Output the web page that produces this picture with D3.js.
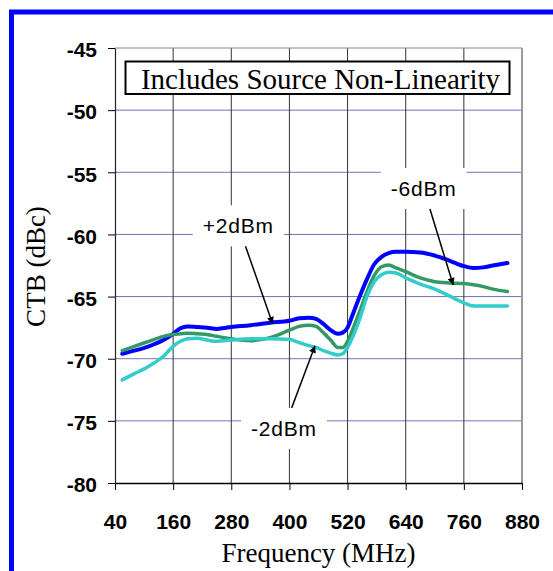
<!DOCTYPE html>
<html>
<head>
<meta charset="utf-8">
<script src="https://cdn.jsdelivr.net/npm/d3@7"></script>
<style>
  html, body { margin: 0; padding: 0; background: #fff; overflow: hidden; }
  svg { display: block; }
</style>
</head>
<body>
<svg id="chart" width="553" height="571"></svg>
<script>
// Frequency grid (MHz) shared by all three drive levels
const freq = [55, 80, 110, 140, 160, 175, 190, 210, 230, 250, 280, 320, 360, 400, 420, 440, 455, 470, 485, 500,
              510, 520, 530, 545, 560, 575, 590, 605, 620, 640, 670, 700, 730, 760, 780, 800, 820, 850];

// CTB (dBc) at +2 dBm drive
const ctbPlus2 = [-69.6, -69.35, -69.0, -68.5, -68.0, -67.55, -67.4, -67.45, -67.5, -67.6, -67.45, -67.3, -67.1, -66.95, -66.75, -66.7, -66.8, -67.2, -67.7, -68.0,
                  -67.9, -67.5, -66.5, -65.0, -63.6, -62.4, -61.8, -61.5, -61.4, -61.4, -61.45, -61.7, -62.1, -62.55, -62.7, -62.65, -62.5, -62.3];

// CTB (dBc) at -2 dBm drive
const ctbMinus2 = [-69.35, -69.0, -68.6, -68.2, -68.05, -68.0, -67.95, -68.0, -68.05, -68.2, -68.4, -68.55, -68.3, -67.7, -67.4, -67.3, -67.4, -67.9, -68.5, -69.1,
                   -69.1, -68.6, -67.7, -66.2, -64.6, -63.3, -62.6, -62.45, -62.7, -63.0, -63.5, -63.8, -63.9, -63.95, -64.05, -64.2, -64.4, -64.6];

// CTB (dBc) at -6 dBm drive
const ctbMinus6 = [-71.7, -71.2, -70.6, -69.8, -69.0, -68.6, -68.4, -68.35, -68.5, -68.6, -68.5, -68.4, -68.4, -68.45, -68.7, -68.95, -69.1, -69.35, -69.55, -69.7,
                   -69.6, -69.1, -68.3, -66.8, -65.0, -63.8, -63.25, -63.05, -63.1, -63.5, -64.0, -64.4, -64.95, -65.5, -65.75, -65.75, -65.75, -65.75];

const xTicks = [40, 160, 280, 400, 520, 640, 760, 880];
const yTicks = [-45, -50, -55, -60, -65, -70, -75, -80];

const seriesNames = ["+2dBm", "-2dBm", "-6dBm"];
const seriesColors = ["#0000ff", "#339966", "#33cccc"];
const seriesWidths = [4, 3.5, 3.5];

// Callouts: label centre and arrow tip, both in data units (MHz, dBc)
const calloutLabels = ["+2dBm", "-6dBm", "-2dBm"];
const calloutTextAt = [[294.5, -59.3], [677, -56.3], [388.8, -75.6]];
const calloutTipAt = [[365.5, -67.2], [738, -64.07], [452.8, -68.95]];

const chartTitle = "Includes Source Non-Linearity";
const xTitle = "Frequency (MHz)";
const yTitle = "CTB (dBc)";

// ---- layout ----
const svg = d3.select("#chart");
const m = { left: 115, top: 48, right: 522, bottom: 483 };

const x = d3.scaleLinear().domain([40, 880]).range([m.left, m.right]);
const y = d3.scaleLinear().domain([-80, -45]).range([m.bottom, m.top]);

const SANS = "'Liberation Sans', Arial, sans-serif";
const SERIF = "'Liberation Serif', 'Times New Roman', serif";

// outer blue frame (runs off the right and bottom edges)
svg.append("rect")
  .attr("x", 11.5).attr("y", 12)
  .attr("width", 700).attr("height", 700)
  .attr("fill", "none").attr("stroke", "#0000ff").attr("stroke-width", 5);

// horizontal gridlines
svg.append("g").selectAll("line")
  .data(yTicks.filter(v => v > -80 && v < -45))
  .join("line")
  .attr("x1", m.left).attr("x2", m.right)
  .attr("y1", d => y(d)).attr("y2", d => y(d))
  .attr("stroke", "#7474b4").attr("stroke-width", 1);

// vertical gridlines
svg.append("g").selectAll("line")
  .data(xTicks.filter(v => v > 40 && v < 880))
  .join("line")
  .attr("x1", d => x(d)).attr("x2", d => x(d))
  .attr("y1", m.top).attr("y2", m.bottom)
  .attr("stroke", "#333").attr("stroke-width", 1);

// top and right plot-area border
svg.append("line")
  .attr("x1", m.left).attr("x2", m.right).attr("y1", y(-45)).attr("y2", y(-45))
  .attr("stroke", "#888").attr("stroke-width", 1.2);
svg.append("line")
  .attr("x1", x(880)).attr("x2", x(880)).attr("y1", m.top).attr("y2", m.bottom)
  .attr("stroke", "#999").attr("stroke-width", 2);

// axes (plain hyphen for negative labels)
const plain = d => String(d);

const xAxis = svg.append("g")
  .attr("transform", `translate(0,${m.bottom})`)
  .call(d3.axisBottom(x).tickValues(xTicks).tickFormat(plain).tickSizeInner(7).tickSizeOuter(0).tickPadding(24));
xAxis.select(".domain").attr("stroke", "#000").attr("stroke-width", 1.6);
xAxis.selectAll(".tick line").attr("stroke", "#000");
xAxis.selectAll("text")
  .attr("font-family", SANS).attr("font-size", 21).attr("font-weight", "bold").attr("fill", "#000");

const yAxis = svg.append("g")
  .attr("transform", `translate(${m.left},0)`)
  .call(d3.axisLeft(y).tickValues(yTicks).tickFormat(plain).tickSizeInner(7).tickSizeOuter(0).tickPadding(11));
yAxis.select(".domain").attr("stroke", "#222").attr("stroke-width", 1.2);
yAxis.selectAll(".tick line").attr("stroke", "#000");
yAxis.selectAll("text")
  .attr("font-family", SANS).attr("font-size", 21).attr("font-weight", "bold").attr("fill", "#000")
  .attr("dy", "0.42em");

// axis titles
svg.append("text")
  .attr("x", (m.left + m.right) / 2).attr("y", 562)
  .attr("text-anchor", "middle")
  .attr("font-family", SERIF).attr("font-size", 27)
  .text(xTitle);

svg.append("text")
  .attr("transform", `translate(45,${(m.top + m.bottom) / 2 + 1}) rotate(-90)`)
  .attr("text-anchor", "middle")
  .attr("font-family", SERIF).attr("font-size", 27)
  .text(yTitle);

// series lines
const seriesData = [ctbPlus2, ctbMinus2, ctbMinus6];
const line = d3.line()
  .x(d => x(d[0])).y(d => y(d[1]))
  .curve(d3.curveMonotoneX);

svg.append("g").selectAll("path")
  .data(seriesData.map((vals, i) => ({ name: seriesNames[i], pts: freq.map((f, j) => [f, vals[j]]), i })))
  .join("path")
  .attr("d", d => line(d.pts))
  .attr("fill", "none")
  .attr("stroke", d => seriesColors[d.i])
  .attr("stroke-width", d => seriesWidths[d.i])
  .attr("stroke-linejoin", "round")
  .attr("stroke-linecap", "round");

// title box
const titleG = svg.append("g");
titleG.append("text")
  .attr("x", (m.left + m.right) / 2 + 2).attr("y", 89)
  .attr("text-anchor", "middle")
  .attr("font-family", SERIF).attr("font-size", 29)
  .text(chartTitle);
titleG.insert("rect", "text")
  .attr("x", 125.5).attr("y", 61.5)
  .attr("width", 384).attr("height", 32.5)
  .attr("fill", "#fff").attr("stroke", "#000").attr("stroke-width", 2);

// arrowhead marker
svg.append("defs").append("marker")
  .attr("id", "arrow")
  .attr("viewBox", "0 0 10 10")
  .attr("refX", 10).attr("refY", 5)
  .attr("markerWidth", 10).attr("markerHeight", 7)
  .attr("markerUnits", "userSpaceOnUse")
  .attr("orient", "auto")
  .append("path").attr("d", "M0,0 L10,5 L0,10 z").attr("fill", "#000");

// callouts: white label box with an arrow pointing at its curve
calloutLabels.forEach((lab, i) => {
  const cx = x(calloutTextAt[i][0]);
  const cy = y(calloutTextAt[i][1]);
  const tx = x(calloutTipAt[i][0]);
  const ty = y(calloutTipAt[i][1]);
  const g = svg.append("g");
  const t = g.append("text")
    .attr("x", cx).attr("y", cy)
    .attr("dy", "0.36em")
    .attr("text-anchor", "middle")
    .attr("font-family", SANS).attr("font-size", 21)
    .attr("letter-spacing", "0.8px")
    .text(lab);
  const bb = t.node().getBBox();
  const padX = 10, padY = 9;
  const bx0 = bb.x - padX, bx1 = bb.x + bb.width + padX;
  const by0 = bb.y - padY, by1 = bb.y + bb.height + padY;
  g.insert("rect", "text")
    .attr("x", bx0).attr("y", by0)
    .attr("width", bx1 - bx0).attr("height", by1 - by0)
    .attr("fill", "#fff");
  // start the arrow where the centre-to-tip ray leaves the box
  const edgeY = ty > cy ? by1 : by0;
  const k = (edgeY - cy) / (ty - cy);
  const sx = cx + (tx - cx) * k;
  g.append("line")
    .attr("x1", sx).attr("y1", edgeY)
    .attr("x2", tx).attr("y2", ty)
    .attr("stroke", "#000").attr("stroke-width", 1.5)
    .attr("marker-end", "url(#arrow)");
});
</script>
</body>
</html>
